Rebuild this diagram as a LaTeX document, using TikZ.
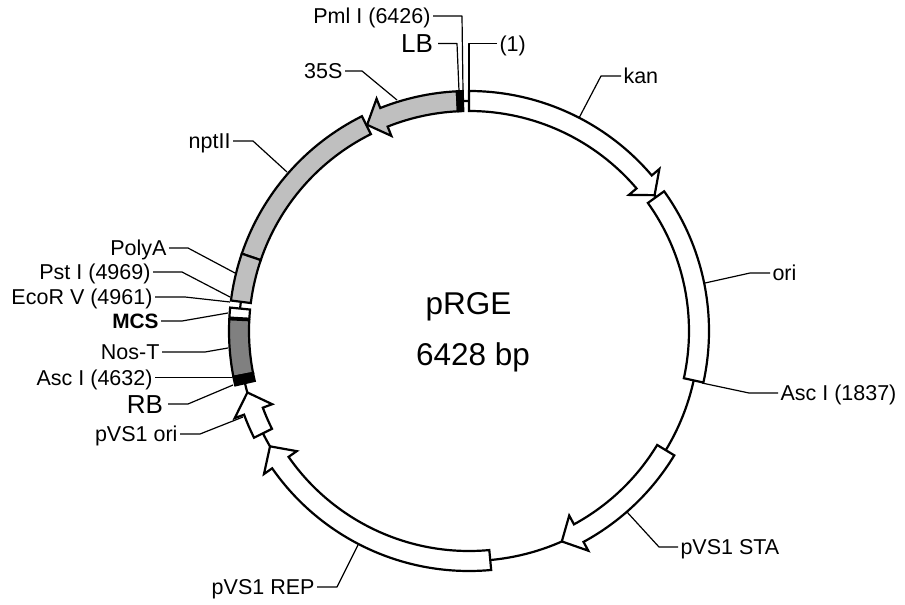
\documentclass[tikz,border=0pt]{standalone}
\usepackage{fontspec}
\setmainfont{Liberation Sans}
\definecolor{featgrey}{gray}{0.75}
\definecolor{featdark}{gray}{0.5}
\tikzset{
  feat/.style={draw=black,line width=2.2pt,line join=miter,miter limit=10},
  leader/.style={draw=black,line width=1.2pt,line join=round},
  lab/.style={font=\fontsize{21.5}{25}\selectfont,text height=15.4pt,text depth=0pt,inner ysep=0pt,inner xsep=2.5pt,outer sep=0pt},
  biglab/.style={lab,font=\fontsize{26}{30}\selectfont,text height=18.6pt,inner xsep=5pt},
  boldlab/.style={lab,font=\fontsize{20.8}{25}\selectfont\bfseries},
  title/.style={font=\fontsize{31.5}{36}\selectfont,inner sep=0pt,anchor=base}
}
% #1 style, #2 start angle, #3 end angle
\newcommand{\plasSeg}[3]{\path[feat,#1] (#2:240pt) arc[start angle=#2,end angle=#3,radius=240pt] -- (#3:220pt) arc[start angle=#3,end angle=#2,radius=220pt] -- cycle;}
% #1 style, #2 tail angle, #3 shoulder angle, #4 tip angle
\newcommand{\plasArrow}[4]{\path[feat,#1] (#2:240pt) arc[start angle=#2,end angle=#3,radius=240pt] -- (#3:250pt) -- (#4:230pt) -- (#3:210pt) -- (#3:220pt) arc[start angle=#3,end angle=#2,radius=220pt] -- cycle;}
\begin{document}
\begin{tikzpicture}[x=1pt,y=1pt]
\useasboundingbox (0,0) rectangle (905,-605);
\begin{scope}[shift={(469,-331)}]
  \draw[line width=2.2pt] (0,0) circle[radius=230pt];
  \plasArrow{fill=white}{90}{40.4}{36.2}
  \plasSeg{fill=white}{35.6}{-12.4}
  \plasArrow{fill=white}{-31.2}{-61.5}{-66.2}
  \plasArrow{fill=white}{-84.7}{-145.1}{-149.9}
  \plasArrow{fill=white}{206.4}{200.4}{195.5}
  \plasSeg{fill=featgrey}{116.5}{161.2}
  \plasSeg{fill=featgrey}{161.2}{172.7}
  \plasSeg{fill=white}{174.4}{176.8}
  \plasSeg{fill=featdark}{177.2}{191}
  \plasSeg{fill=black}{191}{193.1}
  \plasArrow{fill=featgrey}{92.9}{111.7}{116.3}
  \plasSeg{fill=black}{91.5}{92.9}
\end{scope}
% labels
\node[lab,anchor=east] (pml) at (433,-16) {Pml I (6426)};
\node[biglab,anchor=east] (lb) at (438,-43.4) {LB};
\node[lab,anchor=west] (one) at (497,-43.4) {(1)};
\node[lab,anchor=east] (s35) at (345,-71) {35S};
\node[lab,anchor=west] (kan) at (621,-76) {kan};
\node[lab,anchor=east] (npt) at (233,-141) {nptII};
\node[lab,anchor=east] (polya) at (169,-248) {PolyA};
\node[lab,anchor=west] (ori) at (770,-273) {ori};
\node[lab,anchor=east] (pst) at (153,-272) {Pst I (4969)};
\node[lab,anchor=east] (eco) at (155,-297) {EcoR V (4961)};
\node[boldlab,anchor=east] (mcs) at (161,-321) {MCS};
\node[lab,anchor=east] (nos) at (162,-352) {Nos-T};
\node[lab,anchor=east] (asc2) at (155,-377.4) {Asc I (4632)};
\node[lab,anchor=west] (asc1) at (778,-393) {Asc I (1837)};
\node[biglab,anchor=east] (rb) at (168,-404) {RB};
\node[lab,anchor=east] (vori) at (180,-434) {pVS1 ori};
\node[lab,anchor=west] (sta) at (678,-547) {pVS1 STA};
\node[lab,anchor=east] (rep) at (317,-587) {pVS1 REP};
\node[title] (name) at (468.5,-314) {pRGE};
\node[title] (size) at (473,-365) {6428 bp};
% leader ends on the features
\coordinate (ePml) at (463,-91);
\coordinate (eLb) at (459,-91);
\coordinate (eOne) at (469,-91);
\coordinate (eS) at (397,-100);
\coordinate (eKan) at (579,-118);
\coordinate (eNpt) at (287,-172);
\coordinate (ePoly) at (235,-273);
\coordinate (eOri) at (705,-283);
\coordinate (ePst) at (230,-297);
\coordinate (eEco) at (230,-302);
\coordinate (eMcs) at (228,-313);
\coordinate (eNos) at (228,-348);
\coordinate (eAsc2) at (232,-377.4);
\coordinate (eAsc1) at (702,-383);
\coordinate (eRb) at (233,-385);
\coordinate (eVori) at (243,-417);
\coordinate (eSta) at (627,-512);
\coordinate (eRep) at (358,-545);
% leaders
\draw[leader] (pml.east) -- (462,-16) -- (ePml);
\draw[leader] (lb.east) -- (457,-43.4) -- (eLb);
\draw[leader] (one.west) -- (469,-43.4) -- (eOne);
\draw[leader] (s35.east) -- (362,-71) -- (eS);
\draw[leader] (kan.west) -- (601,-76) -- (eKan);
\draw[leader] (npt.east) -- (253,-141) -- (eNpt);
\draw[leader] (polya.east) -- (188,-248) -- (ePoly);
\draw[leader] (ori.west) -- (750,-273) -- (eOri);
\draw[leader] (pst.east) -- (182,-272) -- (ePst);
\draw[leader] (eco.east) -- (185,-297) -- (eEco);
\draw[leader] (mcs.east) -- (182,-321) -- (eMcs);
\draw[leader] (nos.east) -- (205,-352) -- (eNos);
\draw[leader] (asc2.east) -- (eAsc2);
\draw[leader] (asc1.west) -- (749,-393) -- (eAsc1);
\draw[leader] (rb.east) -- (188,-404) -- (eRb);
\draw[leader] (vori.east) -- (200,-434) -- (eVori);
\draw[leader] (sta.west) -- (659,-547) -- (eSta);
\draw[leader] (rep.east) -- (337,-587) -- (eRep);
\end{tikzpicture}
\end{document}
